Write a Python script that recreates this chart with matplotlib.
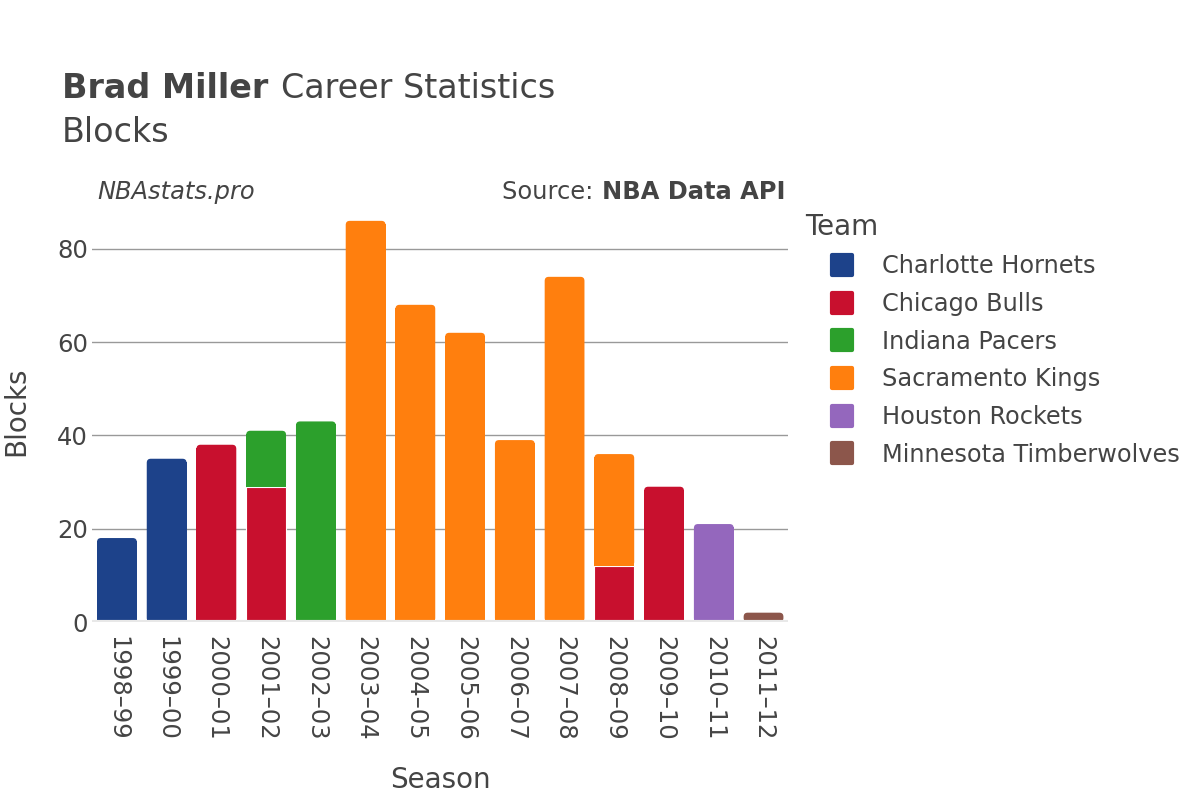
import numpy as np
import matplotlib.pyplot as plt
from matplotlib.lines import Line2D
from matplotlib.markers import MarkerStyle
from matplotlib.patches import FancyBboxPatch

seasons = ['1998–99', '1999–00', '2000–01', '2001–02', '2002–03', '2003–04', '2004–05',
           '2005–06', '2006–07', '2007–08', '2008–09', '2009–10', '2010–11', '2011–12']
teams = ['Charlotte Hornets', 'Chicago Bulls', 'Indiana Pacers', 'Sacramento Kings',
         'Houston Rockets', 'Minnesota Timberwolves']
colors = ['#1d428a', '#c8102e', '#2ca02c', '#ff7f0e', '#9467bd', '#8c564b']

hornets = [18, 35, 0, 0, 0, 0, 0, 0, 0, 0, 0, 0, 0, 0]
bulls = [0, 0, 38, 29, 0, 0, 0, 0, 0, 0, 12, 29, 0, 0]
pacers = [0, 0, 0, 12, 43, 0, 0, 0, 0, 0, 0, 0, 0, 0]
kings = [0, 0, 0, 0, 0, 86, 68, 62, 39, 74, 24, 0, 0, 0]
rockets = [0, 0, 0, 0, 0, 0, 0, 0, 0, 0, 0, 0, 21, 0]
wolves = [0, 0, 0, 0, 0, 0, 0, 0, 0, 0, 0, 0, 0, 2]
series = [hornets, bulls, pacers, kings, rockets, wolves]

text_color = '#444444'
plt.rcParams['font.family'] = ['DejaVu Sans']

fig = plt.figure(figsize=(12, 8), dpi=100)
ax = fig.add_axes([0.0767, 0.2225, 0.5803, 0.5265])
ymax = 90.3
ax.set_xlim(-0.5, len(seasons) - 0.5)
ax.set_ylim(0, ymax)

# pixel sizes of one data unit, for the rounded tops
px_x = 696 / len(seasons)
px_y = 417 / ymax
aspect = px_x / px_y
w = 0.8
r = 4 / px_x

x = np.arange(len(seasons))
data = np.array(series, dtype=float)
totals = data.sum(axis=0)
bottom = np.zeros(len(seasons))
for k, (vals, c) in enumerate(zip(data, colors)):
    for i in range(len(seasons)):
        h = vals[i]
        if h <= 0:
            continue
        b = bottom[i]
        is_top = np.isclose(b + h, totals[i])
        if is_top:
            ax.bar(x[i], h - min(h, 1.2) / 2, width=w, bottom=b, color=c, linewidth=0, zorder=3)
            ax.add_patch(FancyBboxPatch((x[i] - w / 2, b), w, h,
                                        boxstyle=f'round,pad=0,rounding_size={r}',
                                        mutation_aspect=aspect, facecolor=c,
                                        linewidth=0, zorder=3))
        else:
            ax.bar(x[i], h, width=w, bottom=b, color=c, edgecolor='white',
                   linewidth=0.8, zorder=3)
    bottom += vals

ax.set_yticks([0, 20, 40, 60, 80])
ax.yaxis.grid(True, color='#999999', linewidth=1)
ax.set_axisbelow(True)
ax.axhline(0, color='#e8e8e8', linewidth=3, zorder=4)
for s in ax.spines.values():
    s.set_visible(False)
ax.tick_params(axis='both', length=0, labelsize=17.5, labelcolor=text_color)
ax.tick_params(axis='y', pad=3)
ax.tick_params(axis='x', pad=10)
ax.set_xticks(x)
ax.set_xticklabels(seasons, rotation=-90)
ax.set_xlabel('Season', fontsize=20, color=text_color, labelpad=18)
ax.set_ylabel('Blocks', fontsize=20, color=text_color, labelpad=19)

fig.text(62 / 1200, 1 - 88 / 800, 'Brad Miller', fontsize=24, fontweight='bold',
         color=text_color, va='center')
fig.text(281 / 1200, 1 - 88 / 800, 'Career Statistics', fontsize=24,
         color=text_color, va='center')
fig.text(62 / 1200, 1 - 132 / 800, 'Blocks', fontsize=24, color=text_color, va='center')
fig.text(97 / 1200, 1 - 192 / 800, 'NBAstats.pro', fontsize=17.4, style='italic',
         color=text_color, va='center')
src = fig.text(785 / 1200, 1 - 192 / 800, 'NBA Data API', fontsize=17.4, fontweight='bold',
               color=text_color, va='center', ha='right')
fig.canvas.draw()
bb = src.get_window_extent()
fig.text(bb.x0 / fig.bbox.width, 1 - 192 / 800, 'Source: ', fontsize=17.4,
         color=text_color, va='center', ha='right')

sq = MarkerStyle('s', joinstyle='round')
handles = [Line2D([0], [0], marker=sq, linestyle='none', markersize=14,
                  markeredgewidth=3, markerfacecolor=c, markeredgecolor=c) for c in colors]
leg = fig.legend(handles, teams, loc='upper left', bbox_to_anchor=(796 / 1200, 1 - 203 / 800),
                 frameon=False, fontsize=17.3, title='Team', title_fontsize=20,
                 labelspacing=0.57, handlelength=3.0, handletextpad=0.2, borderaxespad=0)
leg._legend_box.align = 'left'
for t in leg.get_texts():
    t.set_color(text_color)
leg.get_title().set_color(text_color)

fig.savefig('out.png', dpi=100)
